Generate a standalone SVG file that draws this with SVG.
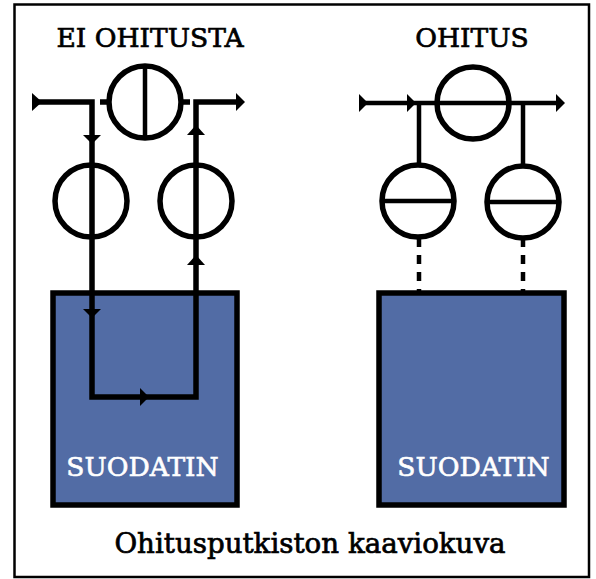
<svg xmlns="http://www.w3.org/2000/svg" width="596" height="579" viewBox="0 0 596 579">
<defs><style>
.t{font-family:"DejaVu Serif","Liberation Serif",serif;text-anchor:middle;fill:#000;stroke:#000;stroke-width:.7}
.c{fill:#fff;stroke:#000;stroke-width:5.5}
.l{fill:none;stroke:#000;stroke-width:4.5}
.h{fill:none;stroke:#000;stroke-width:5.5}
.b{fill:#526ca5;stroke:#000;stroke-width:5.5}
.w{font-family:"DejaVu Serif","Liberation Serif",serif;text-anchor:middle;fill:#fff;stroke:#fff;stroke-width:.6;font-size:26.5px}
</style></defs>
<rect width="596" height="579" fill="#fff"/>
<rect id="frame" x="14.500" y="4.500" width="574.500" height="572.500" fill="none" stroke="#000" stroke-width="2.500"/>
<g id="filter-left"><rect class="b" x="53" y="293" width="184" height="212"/><text class="w" x="142.500" y="476">SUODATIN</text></g>
<g id="filter-right"><rect class="b" x="379" y="293" width="185" height="212"/><text class="w" x="473.500" y="476">SUODATIN</text></g>
<g id="valve-top-left"><circle class="c" cx="145" cy="102" r="36"/><path class="l" d="M145 66V138"/></g>
<g id="valve-left-a"><circle class="c" cx="91" cy="201" r="36"/></g>
<g id="valve-left-b"><circle class="c" cx="196" cy="201" r="36"/></g>
<g id="valve-top-right"><circle class="c" cx="473" cy="103" r="36"/></g>
<g id="valve-right-a"><circle class="c" cx="418" cy="201" r="36"/><path class="l" d="M382 201H454"/></g>
<g id="valve-right-b"><circle class="c" cx="523" cy="202" r="36"/><path class="l" d="M487 202H559"/></g>
<g id="connectors">
<path class="h" d="M35 102H92V397H196V102H238"/>
<path class="h" d="M100 102H109M181 102H190"/>
<path class="l" d="M362 103H558"/>
<path class="l" d="M419 103V165M523 103V165"/>
<path class="l" d="M419 238V293M523 238V293" stroke-dasharray="9 8"/>
<g fill="#000">
<path d="M32 93L42 102L32 111Z"/>
<path d="M236 93L245 102L236 111Z"/>
<path d="M83 135H101L92 144Z"/>
<path d="M187 135H205L196 125Z"/>
<path d="M187 265H205L196 255Z"/>
<path d="M83 309H101L92 318Z"/>
<path d="M140 388L149 397L140 406Z"/>
<path d="M359 94L368 103L359 112Z"/>
<path d="M407 94L416 103L407 112Z"/>
<path d="M556 94L565 103L556 112Z"/>
</g></g>
<text class="t" x="150" y="47" font-size="26.500">EI OHITUSTA</text>
<text class="t" x="472" y="47" font-size="26.500">OHITUS</text>
<text class="t" x="310" y="553" font-size="27.700">Ohitusputkiston kaaviokuva</text>
</svg>
